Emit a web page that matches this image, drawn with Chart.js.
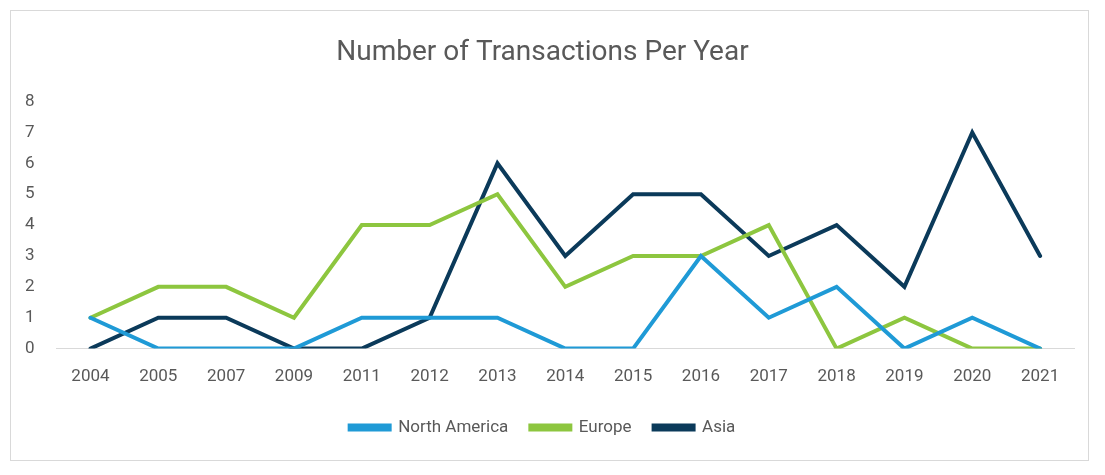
<!DOCTYPE html>
<html>
<head>
<meta charset="utf-8">
<script src="https://cdn.jsdelivr.net/npm/chart.js@4"></script>
<style>
  body { margin: 0; background: #fff; }
  #wrap { position: absolute; left: 10px; top: 10px; width: 1079px; height: 451px; border: 1px solid #d9d9d9; box-sizing: border-box; }
</style>
</head>
<body>
<div id="wrap"><canvas id="chart"></canvas></div>
<script>
const years = ["2004","2005","2007","2009","2011","2012","2013","2014","2015","2016","2017","2018","2019","2020","2021"];
const northAmerica = [1,0,0,0,1,1,1,0,0,3,1,2,0,1,0];
const europe = [1,2,2,1,4,4,5,2,3,3,4,0,1,0,0];
const asia = [0,1,1,0,0,1,6,3,5,5,3,4,2,7,3];

function series(label, data, color) {
  return { label, data, borderColor: color, backgroundColor: color, borderWidth: 4,
    pointRadius: 0, tension: 0, borderCapStyle: "round", borderJoinStyle: "miter" };
}

new Chart(document.getElementById("chart"), {
  type: "line",
  data: {
    labels: years,
    datasets: [
      series("North America", northAmerica, "#1f9ad6"),
      series("Europe", europe, "#8dc63f"),
      series("Asia", asia, "#0b3a5a")
    ]
  },
  options: {
    responsive: true,
    maintainAspectRatio: false,
    animation: false,
    layout: { padding: { left: 0, right: 14, top: 13, bottom: 14 } },
    plugins: {
      title: { display: true, text: "Number of Transactions Per Year", color: "#595959",
        font: { family: "Roboto", size: 28, weight: "normal" }, padding: { top: 12, bottom: 32 } },
      legend: { position: "bottom", labels: { color: "#595959", font: { family: "Roboto", size: 17 },
        boxWidth: 40, boxHeight: 4, padding: 22 } },
      tooltip: { enabled: false }
    },
    scales: {
      x: { offset: true, grid: { display: false }, border: { color: "#d9d9d9", width: 1 },
        ticks: { color: "#595959", font: { family: "Roboto", size: 17 }, padding: 10 } },
      y: { min: 0, max: 8, grid: { display: false }, border: { display: false },
        ticks: { stepSize: 1, color: "#595959", font: { family: "Roboto", size: 17 }, padding: 14 } }
    }
  }
});
</script>
</body>
</html>
